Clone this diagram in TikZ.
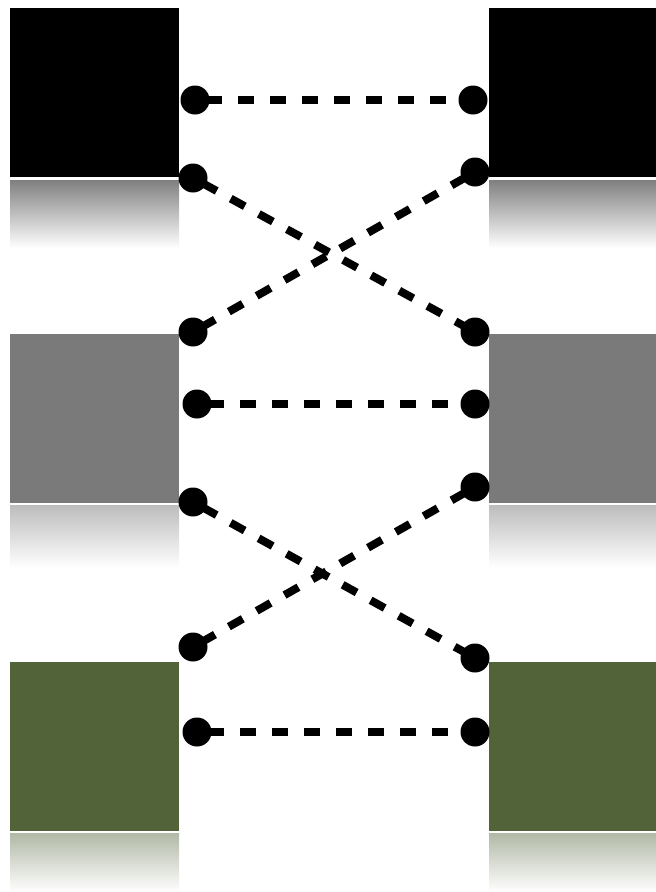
\documentclass[tikz,border=0pt]{standalone}
\usetikzlibrary{calc}
\definecolor{boxgray}{HTML}{7A7A7A}
\definecolor{boxgreen}{HTML}{536339}
\tikzset{
  dot/.style={circle,fill=black,inner sep=0pt,minimum size=29pt},
  link/.style={line width=8pt,dash pattern=on 16pt off 16pt,dash phase=-11pt},
  sq/.style={draw=none,inner sep=0pt,minimum width=169pt,minimum height=169pt,anchor=north west}
}
\begin{document}
\begin{tikzpicture}[x=1pt,y=-1pt]
\useasboundingbox (0,0) rectangle (656,892);
% reflections
\shade[top color=black!50,bottom color=white] (10,180) rectangle (179,248);
\shade[top color=black!50,bottom color=white] (489,180) rectangle (656,248);
\shade[top color=boxgray!50,bottom color=white] (10,505) rectangle (179,568);
\shade[top color=boxgray!50,bottom color=white] (489,505) rectangle (656,568);
\shade[top color=boxgreen!45,bottom color=white] (10,833) rectangle (179,892);
\shade[top color=boxgreen!45,bottom color=white] (489,833) rectangle (656,892);
% squares
\node[sq,fill=black] (s1l) at (10,8) {};
\node[sq,fill=black,minimum width=167pt] (s1r) at (489,8) {};
\node[sq,fill=boxgray] (s2l) at (10,334) {};
\node[sq,fill=boxgray,minimum width=167pt] (s2r) at (489,334) {};
\node[sq,fill=boxgreen] (s3l) at (10,662) {};
\node[sq,fill=boxgreen,minimum width=167pt] (s3r) at (489,662) {};
% dots
\node[dot] (l1) at (195,100) {};
\node[dot] (l2) at (193,178) {};
\node[dot] (l3) at (193,332) {};
\node[dot] (l4) at (197,404) {};
\node[dot] (l5) at (193,502) {};
\node[dot] (l6) at (193,647) {};
\node[dot] (l7) at (197,732) {};
\node[dot] (r1) at (473,100) {};
\node[dot] (r2) at (475,172) {};
\node[dot] (r3) at (475,332) {};
\node[dot] (r4) at (475,404) {};
\node[dot] (r5) at (475,487) {};
\node[dot] (r6) at (475,658) {};
\node[dot] (r7) at (475,732) {};
% connectors
\begin{scope}[on background layer/.style={}]
\draw[link] (l1.center) -- (r1.center);
\draw[link] (l2.center) -- (r3.center);
\draw[link] (r2.center) -- (l3.center);
\draw[link] (l4.center) -- (r4.center);
\draw[link] (l5.center) -- (r6.center);
\draw[link] (r5.center) -- (l6.center);
\draw[link] (l7.center) -- (r7.center);
\end{scope}
\end{tikzpicture}
\end{document}
